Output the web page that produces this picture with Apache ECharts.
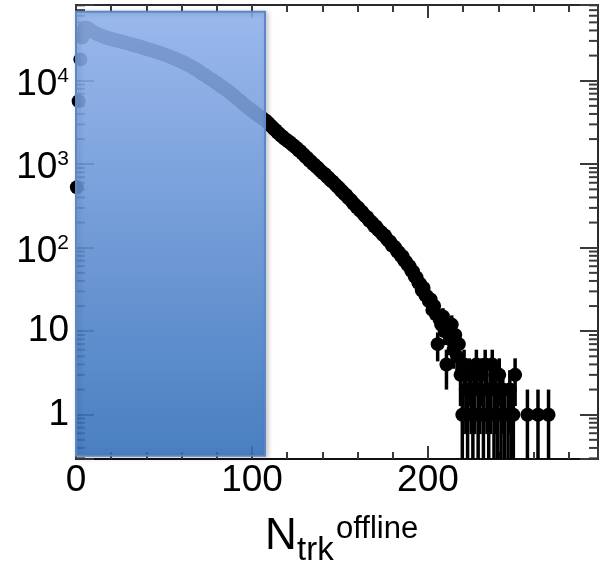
<!DOCTYPE html>
<html>
<head>
<meta charset="utf-8">
<script src="https://cdn.jsdelivr.net/npm/echarts@6/dist/echarts.min.js"></script>
<style>
  html, body { margin: 0; padding: 0; background: #ffffff; }
  #chart { width: 606px; height: 567px; }
</style>
</head>
<body>
<div id="chart"></div>
<script>
// Offline track multiplicity: number of events per unit-wide N_trk bin, starting at bin 0.
const eventCounts = [
  530, 5700, 18000, 33000, 42000, 43500, 42600, 41300, 39800, 38600,
  37500, 36800, 35900, 35200, 34500, 33900, 33200, 32800, 32200, 31800,
  31400, 31000, 30500, 30300, 29800, 29500, 29100, 28800, 28300, 28000,
  27600, 27200, 26900, 26600, 26100, 25800, 25500, 25000, 24800, 24300,
  24000, 23700, 23200, 23000, 22600, 22200, 21900, 21600, 21100, 20900,
  20500, 20100, 19800, 19300, 19000, 18600, 18300, 17800, 17500, 17100,
  16700, 16400, 15900, 15500, 15200, 14800, 14300, 14000, 13600, 13100,
  12700, 12300, 11900, 11600, 11200, 10800, 10500, 10200, 9800, 9500,
  9200, 8900, 8600, 8300, 8000, 7800, 7500, 7200, 6900, 6700,
  6400, 6100, 5900, 5700, 5400, 5200, 5000, 4800, 4650, 4450,
  4300, 4150, 4000, 3850, 3730, 3600, 3470, 3370, 3230, 3080,
  2910, 2800, 2640, 2550, 2400, 2320, 2190, 2130, 2020, 1970,
  1880, 1830, 1740, 1690, 1600, 1560, 1470, 1430, 1350, 1300,
  1220, 1190, 1110, 1080, 1010, 985, 930, 905, 850, 815,
  780, 760, 710, 690, 648, 625, 598, 567, 541, 520,
  485, 470, 440, 428, 398, 382, 366, 338, 328, 305,
  300, 276, 270, 250, 238, 232, 212, 206, 196, 181,
  180, 165, 158, 152, 142, 140, 128, 121, 118, 106,
  104, 99, 90, 88, 80, 79, 70, 68, 62, 60,
  53, 52, 45, 44, 38, 37, 31, 33, 27, 26,
  23, 24, 18, 20, 16, 7, 14, 12, 15, 10,
  4, 11, 8, 12, 6, 9, 5, 7, 3, 1,
  4, 2, 1, 3, 2, 1, 2, 4, 1, 2,
  3, 1, 4, 2, 1, 2, 4, 1, 2, 1,
  3, 1, 2, 1, 0, 1, 2, 1, 1, 3,
  0, 0, 0, 0, 0, 0, 1, 0, 0, 0,
  0, 0, 1, 0, 0, 0, 0, 0, 1, 0
];

// Axis ranges and tick labels
const xRange = [0, 296.6];
const yRange = [0.2947, 80700];
const xTickLabels = [0, 100, 200];
const yDecades = [1, 10, 100, 1000, 10000];
const yMinorMantissas = [2, 3, 4, 5, 6, 7, 8, 9];

// Highlighted multiplicity window
const selectedBins = [0, 107.4];
const selectedSpan = [0.323, 67000];

const FONT = "'Liberation Sans', Arial, Helvetica, sans-serif";

// Filled bins drawn at bin centres with Poisson errors
const points = [];
eventCounts.forEach(function (count, bin) {
  if (count > 0) points.push([bin + 0.5, count, Math.sqrt(count)]);
});

// Log-axis minor ticks (2..9 in every decade inside the range)
const minorTicks = [];
[0.1, 1, 10, 100, 1000, 10000].forEach(function (decade) {
  yMinorMantissas.forEach(function (m) {
    const v = m * decade;
    if (v > yRange[0] && v < yRange[1]) minorTicks.push([xRange[0], v]);
  });
});

function yLabel(v) {
  const e = Math.log10(v);
  const k = Math.round(e);
  if (Math.abs(e - k) > 1e-6 || yDecades.indexOf(Math.pow(10, k)) < 0) return '';
  if (k === 0) return '1';
  if (k === 1) return '10';
  return '{m|10}{s|' + k + '}';
}

function xLabel(v) {
  return xTickLabels.indexOf(v) >= 0 ? String(v) : '';
}

const frameColor = '#2a2a2a';
const tickColor = '#3a3a3a';

function xAxisCfg(position, showLabels) {
  return {
    type: 'value',
    position: position,
    min: xRange[0],
    max: xRange[1],
    interval: 100,
    axisLine: { show: true, onZero: false, lineStyle: { color: position === 'bottom' ? '#111' : frameColor, width: 2 } },
    axisTick: { show: true, inside: true, length: 13, lineStyle: { color: tickColor, width: 2 } },
    minorTick: { show: true, splitNumber: 5, length: 7, lineStyle: { color: tickColor, width: 2 } },
    splitLine: { show: false },
    minorSplitLine: { show: false },
    axisLabel: {
      show: showLabels,
      formatter: xLabel,
      fontSize: 37,
      fontFamily: FONT,
      color: '#000',
      margin: 3,
      showMaxLabel: false
    }
  };
}

function yAxisCfg(position, showLabels) {
  return {
    type: 'log',
    logBase: 10,
    position: position,
    min: yRange[0],
    max: yRange[1],
    axisLine: { show: true, onZero: false, lineStyle: { color: position === 'left' ? '#111' : frameColor, width: 2 } },
    axisTick: { show: true, inside: true, length: 18, lineStyle: { color: tickColor, width: 2 } },
    minorTick: { show: false },
    splitLine: { show: false },
    axisLabel: {
      show: showLabels,
      formatter: yLabel,
      fontSize: 37,
      fontFamily: FONT,
      color: '#000',
      margin: 7,
      rich: {
        m: { fontSize: 37, fontFamily: FONT, color: '#000', padding: [8, 0, 0, 0] },
        s: { fontSize: 21, fontFamily: FONT, color: '#000', verticalAlign: 'top', padding: [7, 0, 0, 0] }
      }
    }
  };
}

const chart = echarts.init(document.getElementById('chart'), null, { renderer: 'canvas' });

chart.setOption({
  animation: false,
  backgroundColor: '#ffffff',
  title: [
    { text: 'N', left: 265, top: 515, padding: 0, textStyle: { fontSize: 44, fontWeight: 'normal', fontFamily: FONT, color: '#000' } },
    { text: 'trk', left: 297, top: 534, padding: 0, textStyle: { fontSize: 33, fontWeight: 'normal', fontFamily: FONT, color: '#000' } },
    { text: 'offline', left: 336, top: 514, padding: 0, textStyle: { fontSize: 31, fontWeight: 'normal', fontFamily: FONT, color: '#000' } }
  ],
  grid: { left: 76, right: 8, top: 5, bottom: 108, containLabel: false, outerBoundsMode: 'none' },
  xAxis: [xAxisCfg('bottom', true), xAxisCfg('top', false)],
  yAxis: [yAxisCfg('left', true), yAxisCfg('right', false)],
  series: [
    {
      // minor log ticks on the left and right frame edges
      type: 'custom',
      xAxisIndex: 0,
      yAxisIndex: 0,
      z: 1,
      silent: true,
      data: minorTicks,
      renderItem: function (params, api) {
        const cs = params.coordSys;
        const y = api.coord([xRange[0], api.value(1)])[1];
        const style = { stroke: tickColor, lineWidth: 2 };
        return {
          type: 'group',
          children: [
            { type: 'line', shape: { x1: cs.x, y1: y, x2: cs.x + 9, y2: y }, style: style },
            { type: 'line', shape: { x1: cs.x + cs.width - 9, y1: y, x2: cs.x + cs.width, y2: y }, style: style }
          ]
        };
      }
    },
    {
      // vertical error bars
      type: 'custom',
      xAxisIndex: 0,
      yAxisIndex: 0,
      z: 2,
      silent: true,
      data: points,
      encode: { x: 0, y: 1 },
      renderItem: function (params, api) {
        const x = api.value(0);
        const v = api.value(1);
        const e = api.value(2);
        const hi = api.coord([x, v + e]);
        const lo = api.coord([x, Math.max(v - e, yRange[0])]);
        return {
          type: 'line',
          shape: { x1: hi[0], y1: hi[1], x2: lo[0], y2: lo[1] },
          style: { stroke: '#000', lineWidth: 3.5 }
        };
      }
    },
    {
      type: 'scatter',
      xAxisIndex: 0,
      yAxisIndex: 0,
      z: 3,
      clip: false,
      silent: true,
      symbol: 'circle',
      symbolSize: 14,
      itemStyle: { color: '#000', opacity: 1 },
      data: points.map(function (p) { return [p[0], p[1]]; })
    },
    {
      // highlighted low-multiplicity window
      type: 'custom',
      xAxisIndex: 0,
      yAxisIndex: 0,
      z: 5,
      silent: true,
      clip: false,
      data: [[selectedBins[0], selectedBins[1], selectedSpan[0], selectedSpan[1]]],
      encode: { x: [0, 1], y: [2, 3] },
      renderItem: function (params, api) {
        const tl = api.coord([api.value(0), api.value(3)]);
        const br = api.coord([api.value(1), api.value(2)]);
        return {
          type: 'rect',
          shape: { x: tl[0], y: tl[1], width: br[0] - tl[0], height: br[1] - tl[1] },
          style: {
            fill: {
              type: 'linear', x: 0, y: 0, x2: 0, y2: 1,
              colorStops: [
                { offset: 0, color: 'rgba(148, 182, 242, 0.87)' },
                { offset: 1, color: 'rgba(54, 116, 192, 0.87)' }
              ]
            },
            stroke: '#5b87c9',
            lineWidth: 2,
            shadowBlur: 5,
            shadowOffsetX: 2,
            shadowOffsetY: 1,
            shadowColor: 'rgba(0, 0, 0, 0.25)'
          }
        };
      }
    }
  ]
});
</script>
</body>
</html>
